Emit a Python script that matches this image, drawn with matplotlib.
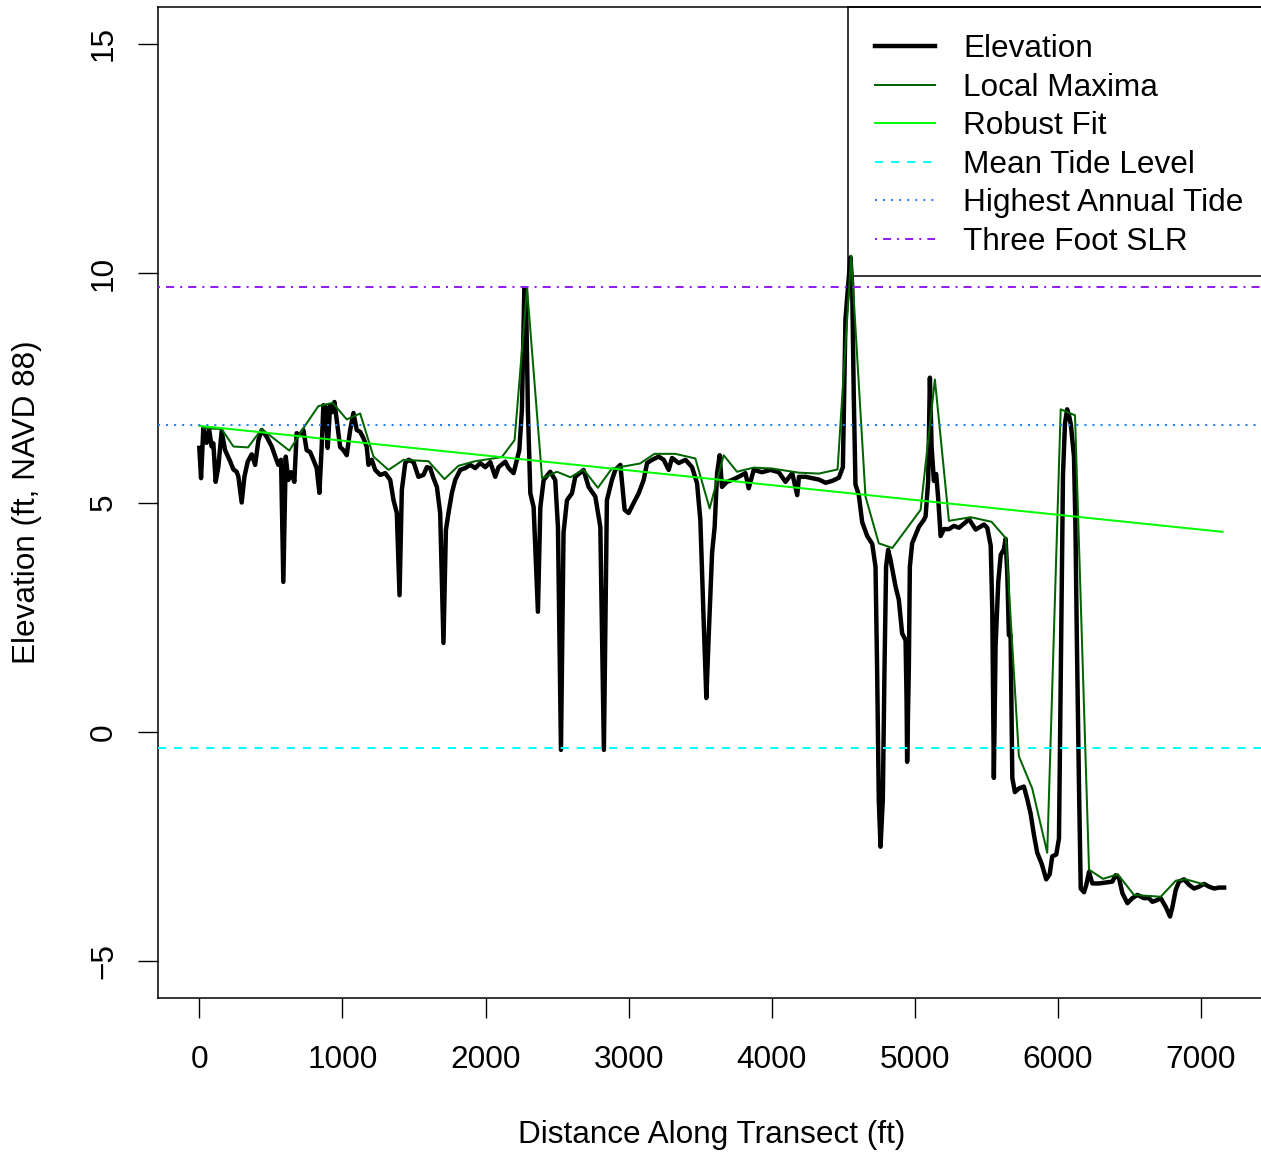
import matplotlib
matplotlib.use("Agg")
import matplotlib.pyplot as plt
from matplotlib.patches import Rectangle
import numpy as np

plt.rcParams['font.family'] = ['Liberation Sans', 'DejaVu Sans']

# ---------------- data ----------------
dist_ft = [0, 12, 28, 51, 68, 86, 98, 114, 133, 156, 180, 215, 238, 261, 273, 296, 315, 338, 366, 390,
           413, 436, 471, 506, 534, 552, 571, 587, 604, 622, 641, 664, 680, 704, 727, 750, 774, 797, 820, 839,
           855, 867, 883, 897, 914, 930, 944, 960, 984, 1007, 1030, 1054, 1077, 1100, 1124, 1147, 1170, 1182, 1205, 1229,
           1264, 1299, 1334, 1357, 1380, 1399, 1415, 1439, 1462, 1497, 1531, 1566, 1590, 1613, 1636, 1660, 1683, 1706, 1723, 1741,
           1765, 1788, 1823, 1858, 1893, 1928, 1963, 1998, 2033, 2068, 2091, 2138, 2161, 2196, 2219, 2236, 2254, 2271, 2282, 2296,
           2313, 2336, 2366, 2383, 2406, 2452, 2487, 2506, 2527, 2545, 2569, 2604, 2627, 2685, 2720, 2767, 2802, 2827, 2848, 2883,
           2907, 2942, 2972, 3000, 3035, 3070, 3105, 3129, 3164, 3210, 3245, 3280, 3303, 3350, 3397, 3443, 3478, 3501, 3524, 3543,
           3559, 3583, 3601, 3618, 3636, 3652, 3687, 3722, 3769, 3816, 3839, 3874, 3932, 3991, 4049, 4096, 4143, 4178, 4190, 4236,
           4283, 4329, 4376, 4422, 4469, 4497, 4515, 4534, 4550, 4562, 4573, 4585, 4608, 4632, 4667, 4702, 4725, 4736, 4748, 4760,
           4776, 4788, 4799, 4813, 4830, 4865, 4888, 4911, 4935, 4942, 4946, 4958, 4965, 4981, 5028, 5063, 5075, 5093, 5105, 5117,
           5133, 5149, 5163, 5180, 5203, 5238, 5273, 5308, 5355, 5378, 5425, 5483, 5506, 5530, 5541, 5552, 5564, 5583, 5600, 5622,
           5634, 5646, 5657, 5669, 5681, 5699, 5727, 5762, 5786, 5809, 5832, 5855, 5886, 5918, 5942, 5960, 5988, 6007, 6022, 6035,
           6049, 6064, 6077, 6090, 6112, 6122, 6132, 6147, 6159, 6182, 6198, 6217, 6240, 6287, 6333, 6380, 6403, 6427, 6450, 6485,
           6520, 6555, 6601, 6636, 6660, 6695, 6718, 6753, 6783, 6800, 6823, 6846, 6881, 6916, 6951, 6986, 7021, 7056, 7091, 7126,
           7161]
elev_ft = [6.19, 5.53, 6.62, 6.30, 6.60, 6.22, 6.29, 5.45, 5.78, 6.55, 6.14, 5.90, 5.72, 5.67, 5.56, 5.00, 5.56, 5.89, 6.05, 5.82,
           6.36, 6.58, 6.43, 6.22, 5.97, 5.82, 5.93, 3.27, 6.00, 5.49, 5.66, 5.45, 6.51, 6.47, 6.58, 6.14, 6.10, 5.93, 5.75, 5.21,
           6.21, 7.12, 7.08, 6.19, 7.12, 6.97, 7.19, 6.80, 6.21, 6.14, 6.03, 6.58, 6.95, 6.58, 6.54, 6.40, 6.21, 5.82, 5.93, 5.71,
           5.60, 5.64, 5.49, 5.05, 4.77, 2.98, 5.27, 5.86, 5.93, 5.88, 5.56, 5.60, 5.77, 5.75, 5.53, 5.34, 4.77, 1.94, 4.40, 4.77,
           5.21, 5.49, 5.71, 5.75, 5.82, 5.75, 5.86, 5.77, 5.88, 5.56, 5.77, 5.89, 5.75, 5.64, 5.93, 6.14, 7.01, 9.67, 9.67, 7.01,
           5.20, 4.90, 2.62, 4.90, 5.49, 5.67, 5.49, 4.47, -0.39, 4.34, 5.05, 5.20, 5.56, 5.71, 5.34, 5.13, 4.47, -0.39, 5.05, 5.49,
           5.71, 5.82, 4.84, 4.77, 4.99, 5.20, 5.49, 5.86, 5.93, 6.00, 5.93, 5.71, 5.97, 5.86, 5.93, 5.77, 5.42, 4.62, 2.44, 0.74,
           2.07, 3.90, 4.47, 5.64, 6.03, 5.34, 5.45, 5.49, 5.56, 5.64, 5.31, 5.71, 5.66, 5.71, 5.66, 5.45, 5.64, 5.16, 5.56, 5.56,
           5.53, 5.50, 5.43, 5.47, 5.54, 5.77, 8.99, 9.74, 10.34, 9.74, 7.34, 5.39, 5.17, 4.57, 4.27, 4.10, 3.60, 1.42, -1.48, -2.50,
           -1.48, 1.42, 3.60, 3.97, 3.75, 3.17, 2.88, 2.15, 2.00, 0.70, -0.65, 1.42, 3.60, 4.11, 4.47, 4.62, 4.70, 5.47, 7.72, 6.22,
           5.47, 5.62, 5.09, 4.27, 4.42, 4.42, 4.49, 4.45, 4.57, 4.64, 4.41, 4.52, 4.45, 4.06, 2.66, -1.00, 1.88, 3.28, 3.86, 3.98,
           4.21, 3.44, 2.11, 2.11, -1.00, -1.31, -1.23, -1.19, -1.47, -1.78, -2.24, -2.63, -2.87, -3.21, -3.10, -2.71, -2.67, -2.32, 2.00, 5.60,
           6.72, 7.03, 6.90, 6.70, 6.00, 4.50, 2.00, -1.20, -3.41, -3.49, -3.33, -3.05, -3.30, -3.30, -3.28, -3.26, -3.12, -3.19, -3.51, -3.73,
           -3.62, -3.55, -3.62, -3.62, -3.70, -3.66, -3.62, -3.81, -4.02, -3.81, -3.44, -3.26, -3.21, -3.33, -3.41, -3.37, -3.31, -3.37, -3.41, -3.39,
           -3.39]

maxima_ft = [28, 156, 238, 340, 436, 629, 727, 832, 932, 1030, 1124, 1217, 1322, 1427, 1601, 1713, 1811, 1928, 2114, 2203,
             2290, 2395, 2499, 2593, 2685, 2785, 2883, 3080, 3180, 3326, 3466, 3566, 3664, 3757, 3874, 4002, 4189, 4329, 4460, 4555,
             4655, 4748, 4843, 5040, 5140, 5238, 5390, 5536, 5636, 5727, 5820, 5925, 6019, 6119, 6217, 6315, 6418, 6531, 6718, 6823,
             6893, 7021]
maxima_elev = [6.62, 6.60, 6.22, 6.20, 6.60, 6.13, 6.62, 7.10, 7.17, 6.81, 6.94, 6.00, 5.71, 5.93, 5.90, 5.51, 5.80, 5.90, 5.99, 6.36,
               9.67, 5.53, 5.67, 5.55, 5.72, 5.32, 5.74, 5.85, 6.06, 6.06, 5.96, 4.87, 6.03, 5.67, 5.76, 5.74, 5.65, 5.63, 5.72, 10.38,
               5.13, 4.11, 4.01, 4.84, 7.68, 4.60, 4.68, 4.58, 4.22, -0.53, -1.23, -2.63, 7.03, 6.90, -3.00, -3.20, -3.10, -3.55, -3.59, -3.24,
               -3.21, -3.32]

fit_intercept = 6.67
fit_slope = -0.000323
fit_range = [0, 7150]

mean_tide = -0.35
highest_annual_tide = 6.69
three_foot_slr = 9.69

legend_labels = ["Elevation", "Local Maxima", "Robust Fit", "Mean Tide Level",
                 "Highest Annual Tide", "Three Foot SLR"]

# ---------------- figure ----------------
W, H = 1261, 1153
fig = plt.figure(figsize=(W / 100, H / 100), dpi=100)
left_px, right_px, top_px, bot_px = 158.4, 1264.9, 6.8, 998.2
ax = fig.add_axes([left_px / W, 1 - bot_px / H, (right_px - left_px) / W, (bot_px - top_px) / H])
ax.set_xlim(-286, 7446)
ax.set_ylim(-5.8, 15.8)

FS = 22.7
lw_thin = 1.45

h_elev, = ax.plot(dist_ft, elev_ft, color='black', lw=3.2, solid_joinstyle='round', zorder=3)
h_max, = ax.plot(maxima_ft, maxima_elev, color='#006400', lw=lw_thin, zorder=4)
fx = np.array(fit_range, dtype=float)
h_fit, = ax.plot(fx, fit_intercept + fit_slope * fx, color='#00FF00', lw=lw_thin, zorder=5)
h_mt = ax.axhline(mean_tide, color='#00FFFF', lw=lw_thin, dashes=(4, 4), zorder=6)
h_hat = ax.axhline(highest_annual_tide, color='#1E7FFF', lw=lw_thin, dashes=(1, 3), zorder=6)
h_slr = ax.axhline(three_foot_slr, color='#9020F0', lw=lw_thin, dashes=(1, 3, 4, 3), zorder=6)

for s in ax.spines.values():
    s.set_linewidth(1.1)

ax.set_xticks(range(0, 7001, 1000))
ax.set_yticks([-5, 0, 5, 10, 15])
ax.tick_params(axis='both', length=14.4, width=1.0, labelsize=FS, direction='out')
ax.tick_params(axis='x', pad=19)
ax.tick_params(axis='y', pad=14, labelrotation=90)
for lab in ax.get_yticklabels():
    lab.set_va('center')

fig.text((left_px + right_px) / 2 / W, 1 - 1135 / H, "Distance Along Transect (ft)",
         ha='center', va='center', fontsize=FS)
fig.text(27 / W, 1 - 502.5 / H, "Elevation (ft, NAVD 88)", rotation=90,
         ha='center', va='center', fontsize=FS)

# legend box (white, black border) drawn below the data lines
leg_x0 = (848 - left_px) / (right_px - left_px)
leg_y0 = (bot_px - 276) / (bot_px - top_px)
box = Rectangle((leg_x0, leg_y0), 1.0 - leg_x0 + 0.02, 1.0 - leg_y0, transform=ax.transAxes,
                facecolor='white', edgecolor='black', lw=1.1, zorder=1, clip_on=False)
ax.add_patch(box)

leg = ax.legend([h_elev, h_max, h_fit, h_mt, h_hat, h_slr], legend_labels,
                loc='upper left', bbox_to_anchor=(leg_x0, 1.0),
                borderaxespad=0, fontsize=FS, frameon=False,
                handlelength=1.9, handletextpad=0.89, borderpad=0.87,
                labelspacing=0.27)
leg.set_zorder(7)

fig.savefig("out.png", dpi=100)
